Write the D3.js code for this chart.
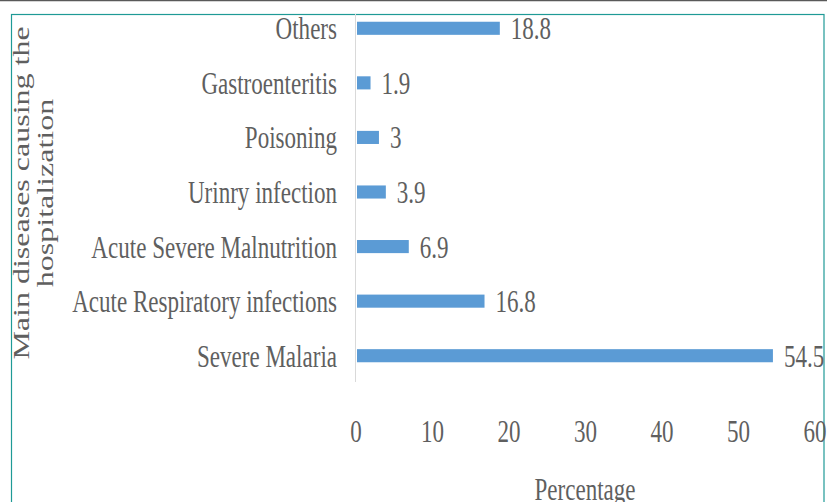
<!DOCTYPE html>
<html>
<head>
<meta charset="utf-8">
<script src="https://cdn.jsdelivr.net/npm/d3@7"></script>
<style>
  body { margin: 0; background: #fff; }
  svg text { font-family: "Liberation Serif", "Times New Roman", serif; fill: #5f5f5f; }
</style>
</head>
<body>
<svg id="chart" width="827" height="502"></svg>
<script>
// data, top to bottom as in the chart
var categories = ["Others", "Gastroenteritis", "Poisoning", "Urinry infection",
                  "Acute Severe Malnutrition", "Acute Respiratory infections", "Severe Malaria"];
var values = [18.8, 1.9, 3, 3.9, 6.9, 16.8, 54.5];
var xTicks = [0, 10, 20, 30, 40, 50, 60];
var yTitle = ["Main diseases  causing the", "hospitalization"];
var xTitle = "Percentage";

var rows = categories.map(function(c, i) { return { name: c, value: values[i] }; });

var svg = d3.select("#chart");
var SX = 0.72;      // text looks squeezed sideways in the original
var FS = 32;

// top rule of the page and the teal frame
svg.append("line").attr("x1", 0).attr("x2", 827).attr("y1", 0.5).attr("y2", 0.5)
   .attr("stroke", "#595959").attr("stroke-width", 1.5);
svg.append("rect").attr("x", 11.5).attr("y", 14.5).attr("width", 812.5).attr("height", 520)
   .attr("fill", "none").attr("stroke", "#1f9a96").attr("stroke-width", 1.2);

var x = d3.scaleLinear().domain([0, 60]).range([356, 815]);
var y = d3.scaleBand().domain(categories).range([1, 383]).paddingInner(0.76).paddingOuter(0.38);

// vertical category axis line
svg.append("line").attr("x1", 355.5).attr("x2", 355.5).attr("y1", 14).attr("y2", 382)
   .attr("stroke", "#d9d9d9").attr("stroke-width", 1);

svg.selectAll("rect.bar")
  .data(rows)
  .enter()
    .append("rect")
      .attr("class", "bar")
      .attr("x", x(0) + 1)
      .attr("y", function(d) { return y(d.name); })
      .attr("width", function(d) { return x(d.value) - x(0) - 1; })
      .attr("height", y.bandwidth())
      .attr("fill", "#5b9bd5");

// category labels
svg.selectAll("text.cat")
  .data(rows)
  .enter()
    .append("text")
      .attr("class", "cat")
      .attr("transform", function(d) {
        return "translate(337," + (y(d.name) + y.bandwidth() / 2 + 11) + ") scale(" + SX + ",1)";
      })
      .attr("text-anchor", "end")
      .style("font-size", FS + "px")
      .text(function(d) { return d.name; });

// value labels
svg.selectAll("text.val")
  .data(rows)
  .enter()
    .append("text")
      .attr("class", "val")
      .attr("transform", function(d) {
        return "translate(" + (x(d.value) + 11) + "," + (y(d.name) + y.bandwidth() / 2 + 11) + ") scale(" + SX + ",1)";
      })
      .style("font-size", FS + "px")
      .text(function(d) { return d.value; });

// x tick labels
svg.selectAll("text.tick")
  .data(xTicks)
  .enter()
    .append("text")
      .attr("class", "tick")
      .attr("transform", function(d) { return "translate(" + x(d) + ",442) scale(" + SX + ",1)"; })
      .attr("text-anchor", "middle")
      .style("font-size", FS + "px")
      .text(function(d) { return d; });

// axis titles
svg.append("text")
   .attr("transform", "translate(585,500) scale(" + SX + ",1)")
   .attr("text-anchor", "middle")
   .style("font-size", FS + "px")
   .text(xTitle);

svg.selectAll("text.ytitle")
  .data(yTitle)
  .enter()
    .append("text")
      .attr("class", "ytitle")
      .attr("transform", function(d, i) { return "translate(" + (29 + i * 24) + ",193) scale(" + SX + ",1) rotate(-90)"; })
      .attr("text-anchor", "middle")
      .style("font-size", FS + "px")
      .text(function(d) { return d; });
</script>
</body>
</html>
